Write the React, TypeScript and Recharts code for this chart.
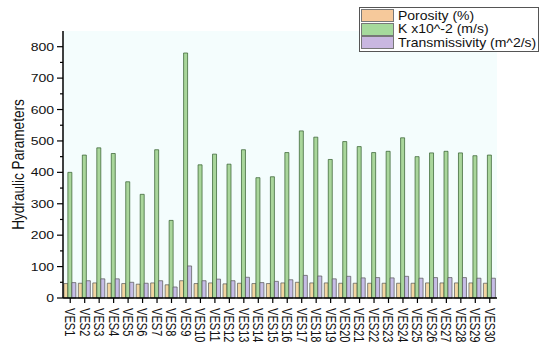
import React from 'react';
import { BarChart, Bar, XAxis, YAxis, CartesianGrid } from 'recharts';

const sites = [
  'VES1', 'VES2', 'VES3', 'VES4', 'VES5', 'VES6', 'VES7', 'VES8', 'VES9', 'VES10',
  'VES11', 'VES12', 'VES13', 'VES14', 'VES15', 'VES16', 'VES17', 'VES18', 'VES19', 'VES20',
  'VES21', 'VES22', 'VES23', 'VES24', 'VES25', 'VES26', 'VES27', 'VES28', 'VES29', 'VES30',
];

const porosity = [
  46, 47, 48, 47, 46, 44, 48, 42, 55, 46,
  48, 45, 47, 46, 46, 48, 50, 48, 48, 47,
  47, 47, 47, 47, 47, 48, 48, 48, 48, 47,
];

const conductivity = [
  400, 455, 478, 460, 370, 330, 472, 247, 780, 424,
  458, 426, 472, 383, 386, 463, 532, 512, 441, 498,
  482, 463, 467, 510, 450, 462, 467, 462, 453, 455,
];

const transmissivity = [
  49, 55, 61, 61, 50, 47, 55, 35, 102, 55,
  60, 55, 66, 49, 53, 58, 72, 70, 61, 69,
  64, 65, 64, 69, 63, 65, 65, 65, 63, 63,
];

const yTicks = [0, 50, 100, 150, 200, 250, 300, 350, 400, 450, 500, 550, 600, 650, 700, 750, 800];

// series: key, legend name, fill, outline
const series = [
  { key: 'porosity', name: 'Porosity (%)', fill: '#f2d6a2', swatch: '#f6c99b', stroke: '#555' },
  { key: 'k', name: 'K x10^-2 (m/s)', fill: '#a9d69b', swatch: '#a6d99c', stroke: '#2f5a2a' },
  { key: 'trans', name: 'Transmissivity (m^2/s)', fill: '#c6bde6', swatch: '#c9b7e0', stroke: '#555' },
];

const data = sites.map((site, i) => ({
  site,
  porosity: porosity[i],
  k: conductivity[i],
  trans: transmissivity[i],
}));

const FONT = '"Liberation Sans", Arial, sans-serif';

const YTick = (props: any) => {
  const { x, y, payload } = props;
  const axisX = x + 8;
  const major = payload.value % 100 === 0;
  return (
    <g>
      <line x1={axisX - (major ? 6 : 3)} x2={axisX} y1={y} y2={y} stroke="#000" strokeWidth={1.2} />
      {major && (
        <text
          transform={`translate(${axisX - 9},${y}) scale(1,0.82)`}
          textAnchor="end"
          dominantBaseline="central"
          fontSize={14}
          fontFamily={FONT}
          fill="#111"
        >
          {payload.value}
        </text>
      )}
    </g>
  );
};

const XTick = (props: any) => {
  const { x, y, payload } = props;
  return (
    <text
      transform={`translate(${x},${y}) rotate(90) scale(0.74,1)`}
      textAnchor="start"
      dominantBaseline="central"
      fontSize={15}
      fontFamily={FONT}
      fill="#111"
    >
      {payload.value}
    </text>
  );
};

const YLabel = (props: any) => {
  const { viewBox } = props;
  const cx = viewBox.x + 18;
  const cy = viewBox.y + viewBox.height / 2;
  return (
    <text
      transform={`translate(${cx},${cy}) rotate(-90) scale(0.8,1)`}
      textAnchor="middle"
      dominantBaseline="central"
      fontSize={17}
      fontFamily={FONT}
      fill="#111"
    >
      Hydraulic Parameters
    </text>
  );
};

const LegendBox = () => (
  <div
    style={{
      position: 'absolute',
      left: 359,
      top: 7,
      border: '1px solid #555',
      background: '#fff',
      padding: '1px 2px 1px 1px',
      fontFamily: FONT,
      fontSize: 14,
      color: '#111',
    }}
  >
    {series.map((s) => (
      <div key={s.key} style={{ display: 'flex', alignItems: 'center', height: 13.5 }}>
        <span
          style={{
            display: 'inline-block',
            width: 31,
            height: 11,
            background: s.swatch,
            border: '1px solid #777',
            marginRight: 4,
          }}
        />
        <span style={{ display: 'inline-block', transform: 'scaleY(0.85)', whiteSpace: 'nowrap' }}>{s.name}</span>
      </div>
    ))}
  </div>
);

export default function App() {
  return (
    <div style={{ position: 'absolute', left: 0, top: 0, width: 550, height: 350, background: '#fff' }}>
      <BarChart
        width={550}
        height={350}
        data={data}
        margin={{ top: 31, right: 53, bottom: 0, left: 0 }}
        barCategoryGap="6%"
        barGap={0}
      >
        <CartesianGrid horizontal={false} vertical={false} fill="#f4fdfd" />
        <XAxis
          dataKey="site"
          interval={0}
          height={52}
          tickSize={5}
          tickMargin={5}
          tick={<XTick />}
          axisLine={{ stroke: '#000', strokeWidth: 1.5 }}
          tickLine={{ stroke: '#000', strokeWidth: 1.2 }}
        />
        <YAxis
          width={63}
          domain={[0, 850]}
          ticks={yTicks}
          interval={0}
          tickSize={6}
          tickMargin={2}
          tickLine={false}
          tick={<YTick />}
          axisLine={{ stroke: '#000', strokeWidth: 1.5 }}
          label={<YLabel />}
        />
        {series.map((s) => (
          <Bar
            key={s.key}
            dataKey={s.key}
            name={s.name}
            fill={s.fill}
            stroke={s.stroke}
            strokeWidth={0.7}
            isAnimationActive={false}
          />
        ))}
      </BarChart>
      <LegendBox />
    </div>
  );
}
